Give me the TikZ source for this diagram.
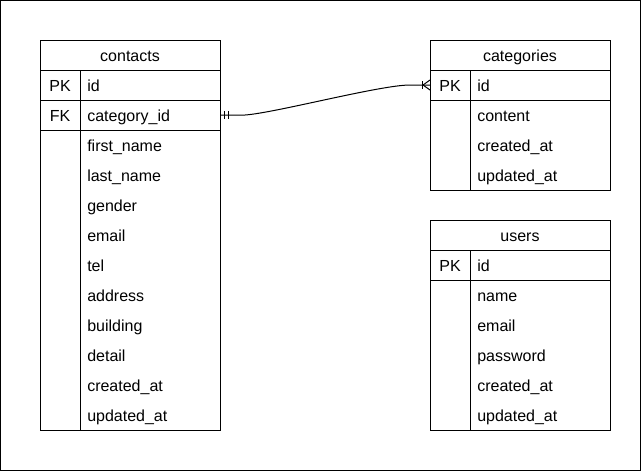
\documentclass[tikz,border=0pt]{standalone}
\usepackage{fontspec}
\setmainfont{Liberation Sans}
\begin{document}
\begin{tikzpicture}[x=0.75pt,y=-0.75pt]
		\tikzstyle{tbl} = [draw=black, line width=0.75pt]
		\tikzstyle{title} = [font=\fontsize{12}{14}\selectfont, anchor=base, inner sep=0]
		\tikzstyle{key} = [font=\fontsize{12}{14}\selectfont, anchor=base, inner sep=0]
		\tikzstyle{field} = [font=\fontsize{12}{14}\selectfont, anchor=base west, inner sep=0]
		\tikzstyle{link} = [draw, line width=0.75pt]
		\useasboundingbox (0,0) rectangle (641,471);
		\draw[line width=0.75pt] (0.5,0.5) rectangle (640.5,470.5);
		% contacts
		\draw[tbl] (40,40) rectangle (220,430);
		\draw[tbl] (40,70) -- (220,70);
		\draw[tbl] (40,100) -- (220,100);
		\draw[tbl] (40,130) -- (220,130);
		\draw[tbl] (80,70) -- (80,430);
		\node[title] (contacts) at (130,61) {contacts};
		\node[key] (c-pk) at (60,91) {PK};
		\node[field] (c-id) at (87,91) {id};
		\node[key] (c-fk) at (60,121) {FK};
		\node[field] (c-catid) at (87,121) {category\_id};
		\foreach \f [count=\i] in {first\_name,last\_name,gender,email,tel,address,building,detail,created\_at,updated\_at}
		{
			\node[field] (c-f\i) at (87,121+30*\i) {\f};
		}
		% categories
		\draw[tbl] (430,40) rectangle (610,190);
		\draw[tbl] (430,70) -- (610,70);
		\draw[tbl] (430,100) -- (610,100);
		\draw[tbl] (470,70) -- (470,190);
		\node[title] (categories) at (520,61) {categories};
		\node[key] (k-pk) at (450,91) {PK};
		\node[field] (k-id) at (477,91) {id};
		\foreach \f [count=\i] in {content,created\_at,updated\_at}
		{
			\node[field] (k-f\i) at (477,91+30*\i) {\f};
		}
		% users
		\draw[tbl] (430,220) rectangle (610,430);
		\draw[tbl] (430,250) -- (610,250);
		\draw[tbl] (430,280) -- (610,280);
		\draw[tbl] (470,250) -- (470,430);
		\node[title] (users) at (520,241) {users};
		\node[key] (u-pk) at (450,271) {PK};
		\node[field] (u-id) at (477,271) {id};
		\foreach \f [count=\i] in {name,email,password,created\_at,updated\_at}
		{
			\node[field] (u-f\i) at (477,271+30*\i) {\f};
		}
		% relation
		\coordinate (c-fk-end) at (220,115);
		\coordinate (k-pk-end) at (430,85);
		\draw[link] (c-fk-end) -- ++(25,0) .. controls (275,113) and (380,85) .. (410,85) -- (k-pk-end);
		\draw[link] (c-fk-end) ++(4,-4) -- ++(0,8);
		\draw[link] (c-fk-end) ++(8,-4) -- ++(0,8);
		\draw[link] (k-pk-end) ++(-8,-4) -- ++(0,8);
		\draw[link] (k-pk-end) ++(0,-5) -- ++(-7,5) -- ++(7,5);
\end{tikzpicture}
\end{document}
